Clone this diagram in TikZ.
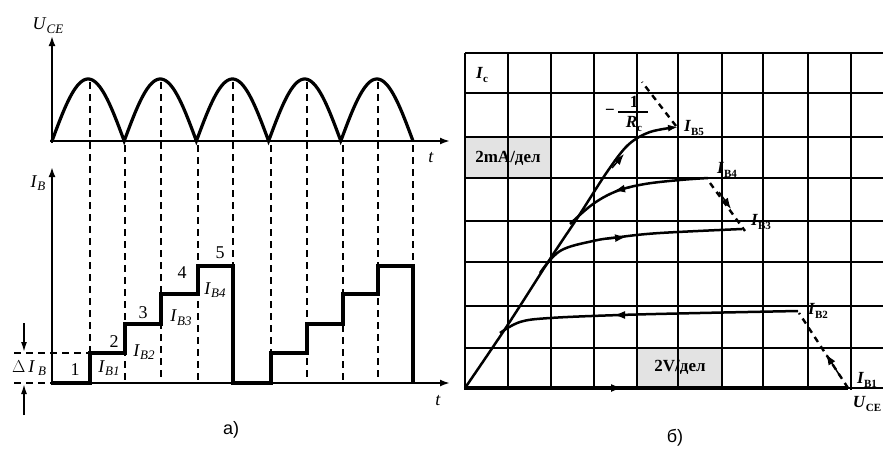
\documentclass[tikz,border=0pt]{standalone}
\usepackage{fontspec}
\setmainfont{Liberation Serif}
\newfontfamily\sansf{Liberation Sans}
\usetikzlibrary{arrows.meta}
\newcommand{\mylab}[2]{\textit{#1}\raisebox{-0.45ex}{\fontsize{13}{13}\selectfont\textit{#2}}}
\newcommand{\myrlab}[2]{\textbf{\textit{#1}}\raisebox{-0.4ex}{\fontsize{11}{11}\selectfont\bfseries #2}}
\begin{document}
\begin{tikzpicture}[x=1pt,y=-1pt,
  thk/.style={line width=3.2pt},
  ax/.style={line width=2.6pt,-{Latex[length=10pt,width=7pt]}},
  vdash/.style={line width=1.3pt,dash pattern=on 7pt off 5pt},
  grd/.style={line width=1.6pt},
  cur/.style={line width=2.5pt},
  rdash/.style={line width=2.4pt,dash pattern=on 6pt off 5pt},
  tipa/.style={-{Latex[length=11pt,width=8pt]},line width=1.5pt},
  lt/.style={font=\fontsize{18}{18}\selectfont, inner sep=0pt},
  rt/.style={font=\fontsize{17}{17}\selectfont\bfseries, inner sep=0pt}]
\useasboundingbox (0,0) rectangle (883,455);

% ---------- left: U_CE ----------
\draw[thk] plot[domain=0:5,samples=301] ({52+72.2*\x},{141-62*abs(sin(180*\x))});
\draw[ax] (52,143) -- (52,36);
\draw[ax] (50,141) -- (450,141);
\node[lt] (uce) at (48,26) {\mylab{U}{CE}};
\node[lt] (t1) at (431,158) {\textit{t}};

% dashed verticals
\foreach \xx in {90,161,233,307,378} \draw[vdash] (\xx,82) -- (\xx,383);
\foreach \xx in {125,198,271,343,413} \draw[vdash] (\xx,145) -- (\xx,383);

% ---------- left: I_B ----------
\draw[ax] (52,385) -- (52,167);
\draw[line width=2.2pt,-{Latex[length=10pt,width=7pt]}] (52,383) -- (450,383);
\node[lt] (ib) at (38,183) {\mylab{I}{B}};
\node[lt] (t2) at (438,401) {\textit{t}};

\draw[line width=3.6pt,line join=miter]
  (52,383) -- (90,383) -- (90,353) -- (125,353) -- (125,324) -- (161,324)
  -- (161,294) -- (198,294) -- (198,266) -- (233,266) -- (233,383)
  -- (271,383) -- (271,353) -- (307,353) -- (307,324) -- (343,324)
  -- (343,294) -- (378,294) -- (378,266) -- (413,266) -- (413,383);

\draw[vdash] (14,353) -- (90,353);
\draw[vdash] (14,383) -- (52,383);
\draw[line width=1.6pt,-{Latex[length=10pt,width=6pt]}] (24,323) -- (24,352);
\draw[line width=1.6pt,-{Latex[length=10pt,width=6pt]}] (24,415) -- (24,384);
\node[lt] (dib) at (29,368) {$\Delta$\,\textit{I}\,\raisebox{-0.45ex}{\fontsize{13}{13}\selectfont\textit{B}}};

\node[lt] (n1) at (75,370) {1};
\node[lt] (n2) at (114,342) {2};
\node[lt] (n3) at (143,313) {3};
\node[lt] (n4) at (182,273) {4};
\node[lt] (n5) at (220,253) {5};
\node[lt] (ib1) at (109,368) {\mylab{I}{B1}};
\node[lt] (ib2) at (144,352) {\mylab{I}{B2}};
\node[lt] (ib3) at (181,318) {\mylab{I}{B3}};
\node[lt] (ib4) at (215,290) {\mylab{I}{B4}};
\node[inner sep=0pt,font=\sansf\fontsize{18}{18}\selectfont] (la) at (231,430) {а)};

% ---------- right: grid ----------
\fill[gray!22] (465,137) rectangle (551,178);
\fill[gray!22] (637,348) rectangle (722,388);
\foreach \xx in {465,508,551,594,637,678,722,763,808,851} \draw[grd] (\xx,53) -- (\xx,390);
\foreach \yy in {53,93,137,178,221,262,306,348} \draw[grd] (465,\yy) -- (883,\yy);
\draw[grd] (848,388) -- (883,388);
\draw[line width=3.2pt] (465,388) -- (848,388);
\draw[tipa] (600,388) -- (622,388);

\node[rt] (gm) at (508,158) {2mA/дел};
\node[rt] (gv) at (680,367) {2V/дел};
\node[rt] (ic) at (482,75) {\myrlab{I}{c}};

% curves
\draw[cur,-{Latex[length=10pt,width=7pt]}] plot[smooth,tension=0.55] coordinates
  {(465,388) (507,326) (550,259) (578,217) (607,172) (628,145) (650,132) (678,127)};
\draw[tipa] (612,168) -- (624,154);
\draw[cur] plot[smooth,tension=0.6] coordinates
  {(570,224) (593,204) (617,191) (645,184) (680,180) (708,178)};
\draw[tipa] (632,187) -- (614,191);
\draw[cur] plot[smooth,tension=0.6] coordinates
  {(540,273) (560,251) (593,241) (620,237) (660,233) (742,229)};
\draw[tipa] (606,239) -- (626,237);
\draw[cur] plot[smooth,tension=0.6] coordinates
  {(500,333) (520,322) (550,318) (620,315) (700,313) (798,311)};
\draw[tipa] (636,315) -- (614,315);

% switching dashed lines
\draw[rdash] (676,126) -- (642,82);
\draw[rdash] (710,183) -- (745,231);
\draw[tipa] (719,192) -- (731,209);
\draw[rdash] (848,388) -- (799,313);
\draw[tipa] (840,376) -- (826,354);

% fraction -1/Rc
\node[rt] (mn) at (610,112) {\textminus};
\draw[line width=1.5pt] (618,112) -- (648,112);
\node[rt] (one) at (634,102) {1};
\node[rt] (rc) at (634,124) {\myrlab{R}{c}};

% right labels
\node[rt] (l5) at (694,128) {\myrlab{I}{B5}};
\node[rt] (l4) at (727,170) {\myrlab{I}{B4}};
\node[rt] (l3) at (761,222) {\myrlab{I}{B3}};
\node[rt] (l2) at (818,311) {\myrlab{I}{B2}};
\node[rt] (l1) at (867,380) {\myrlab{I}{B1}};
\node[rt] (uc) at (867,404) {\myrlab{U}{CE}};
\node[inner sep=0pt,font=\sansf\fontsize{18}{18}\selectfont] (lb) at (675,438) {б)};
\end{tikzpicture}
\end{document}
